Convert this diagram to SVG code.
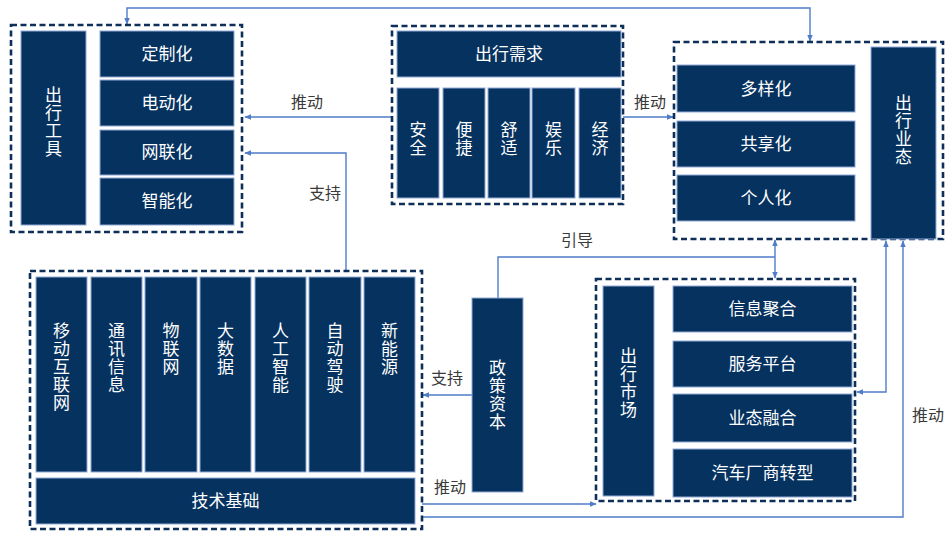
<svg xmlns="http://www.w3.org/2000/svg" width="951" height="534" viewBox="0 0 951 534">
<defs>
<style>
.box{fill:#06325f;stroke:#8fa9d6;stroke-width:1}
.grp{fill:none;stroke:#0d2f5a;stroke-width:2.6;stroke-dasharray:6 3.5}
.t{font-family:"Noto Sans CJK SC","Noto Sans",sans-serif;font-size:17px;fill:#ffffff;text-anchor:middle}
.v{font-family:"Noto Sans CJK SC","Noto Sans",sans-serif;font-size:17px;fill:#ffffff;writing-mode:vertical-rl;text-orientation:upright;letter-spacing:1px}
.lb{font-family:"Noto Sans CJK SC","Noto Sans",sans-serif;font-size:16px;fill:#3a3a3a;text-anchor:middle}
.c{fill:none;stroke:#4f7cc9;stroke-width:1.4}
</style>
<marker id="ah" viewBox="0 0 10 10" refX="9" refY="5" markerWidth="7" markerHeight="7" orient="auto-start-reverse" markerUnits="userSpaceOnUse">
<path d="M0,1 L10,5 L0,9 Z" fill="#4f7cc9"/>
</marker>
</defs>
<rect width="951" height="534" fill="#ffffff"/>

<g id="connectors">
<path class="c" d="M810,41 V8 H127 V24" marker-start="url(#ah)" marker-end="url(#ah)"/>
<path class="c" d="M392,117 H245" marker-end="url(#ah)"/>
<path class="c" d="M623,117 H673" marker-end="url(#ah)"/>
<path class="c" d="M346,271 V153 H245" marker-end="url(#ah)"/>
<path class="c" d="M498,298 V257 H775"/>
<path class="c" d="M775,240 V278" marker-start="url(#ah)" marker-end="url(#ah)"/>
<path class="c" d="M472,395 H423" marker-end="url(#ah)"/>
<path class="c" d="M422,504 H596" marker-end="url(#ah)"/>
<path class="c" d="M422,517 H903 V241" marker-end="url(#ah)"/>
<path class="c" d="M857,392 H886 V241" marker-start="url(#ah)" marker-end="url(#ah)"/>
<text class="lb" x="307" y="108">推动</text>
<text class="lb" x="650" y="108">推动</text>
<text class="lb" x="325" y="199">支持</text>
<text class="lb" x="577" y="246">引导</text>
<text class="lb" x="447" y="384">支持</text>
<text class="lb" x="450" y="493">推动</text>
<text class="lb" x="928" y="421">推动</text>
</g>

<g id="tools">
<rect class="grp" x="11" y="25" width="231" height="207"/>
<rect class="box" x="21" y="31" width="65" height="194"/>
<text class="v" x="53.5" y="86">出行工具</text>
<rect class="box" x="100" y="31" width="134" height="46"/>
<text class="t" x="167" y="60">定制化</text>
<rect class="box" x="100" y="80" width="134" height="46"/>
<text class="t" x="167" y="109">电动化</text>
<rect class="box" x="100" y="130" width="134" height="45"/>
<text class="t" x="167" y="158">网联化</text>
<rect class="box" x="100" y="178" width="134" height="47"/>
<text class="t" x="167" y="207">智能化</text>
</g>

<g id="demand">
<rect class="grp" x="392" y="26" width="231" height="178"/>
<rect class="box" x="397" y="31" width="224" height="46"/>
<text class="t" x="509" y="60">出行需求</text>
<rect class="box" x="397" y="88" width="42" height="110"/>
<text class="v" x="418" y="121">安全</text>
<rect class="box" x="443" y="88" width="42" height="110"/>
<text class="v" x="464" y="121">便捷</text>
<rect class="box" x="488" y="88" width="42" height="110"/>
<text class="v" x="509" y="121">舒适</text>
<rect class="box" x="532" y="88" width="43" height="110"/>
<text class="v" x="553.5" y="121">娱乐</text>
<rect class="box" x="579" y="88" width="42" height="110"/>
<text class="v" x="600" y="121">经济</text>
</g>

<g id="business">
<rect class="grp" x="674" y="42" width="269" height="197"/>
<rect class="box" x="677" y="65" width="178" height="47"/>
<text class="t" x="766" y="94.5">多样化</text>
<rect class="box" x="677" y="121" width="178" height="46"/>
<text class="t" x="766" y="150">共享化</text>
<rect class="box" x="677" y="175" width="178" height="46"/>
<text class="t" x="766" y="204">个人化</text>
<rect class="box" x="871" y="47" width="65" height="192"/>
<text class="v" x="903.5" y="94">出行业态</text>
</g>

<g id="tech">
<rect class="grp" x="30" y="271" width="392" height="258"/>
<rect class="box" x="36" y="277" width="51" height="195"/>
<text class="v" x="61.5" y="322">移动互联网</text>
<rect class="box" x="91" y="277" width="51" height="195"/>
<text class="v" x="116.5" y="322">通讯信息</text>
<rect class="box" x="145" y="277" width="52" height="195"/>
<text class="v" x="171" y="322">物联网</text>
<rect class="box" x="200" y="277" width="51" height="195"/>
<text class="v" x="225.5" y="322">大数据</text>
<rect class="box" x="255" y="277" width="51" height="195"/>
<text class="v" x="280.5" y="322">人工智能</text>
<rect class="box" x="309" y="277" width="52" height="195"/>
<text class="v" x="335" y="322">自动驾驶</text>
<rect class="box" x="364" y="277" width="51" height="195"/>
<text class="v" x="389.5" y="322">新能源</text>
<rect class="box" x="36" y="478" width="379" height="46"/>
<text class="t" x="225.5" y="507">技术基础</text>
</g>

<g id="policy">
<rect class="box" x="472" y="298" width="51" height="194"/>
<text class="v" x="497.5" y="359">政策资本</text>
</g>

<g id="market">
<rect class="grp" x="596" y="279" width="259" height="222"/>
<rect class="box" x="603" y="286" width="51" height="210"/>
<text class="v" x="628.5" y="347">出行市场</text>
<rect class="box" x="673" y="286" width="179" height="46"/>
<text class="t" x="762.5" y="315">信息聚合</text>
<rect class="box" x="673" y="341" width="179" height="46"/>
<text class="t" x="762.5" y="370">服务平台</text>
<rect class="box" x="673" y="394" width="179" height="48"/>
<text class="t" x="762.5" y="424">业态融合</text>
<rect class="box" x="673" y="449" width="179" height="48"/>
<text class="t" x="762.5" y="479">汽车厂商转型</text>
</g>
</svg>
